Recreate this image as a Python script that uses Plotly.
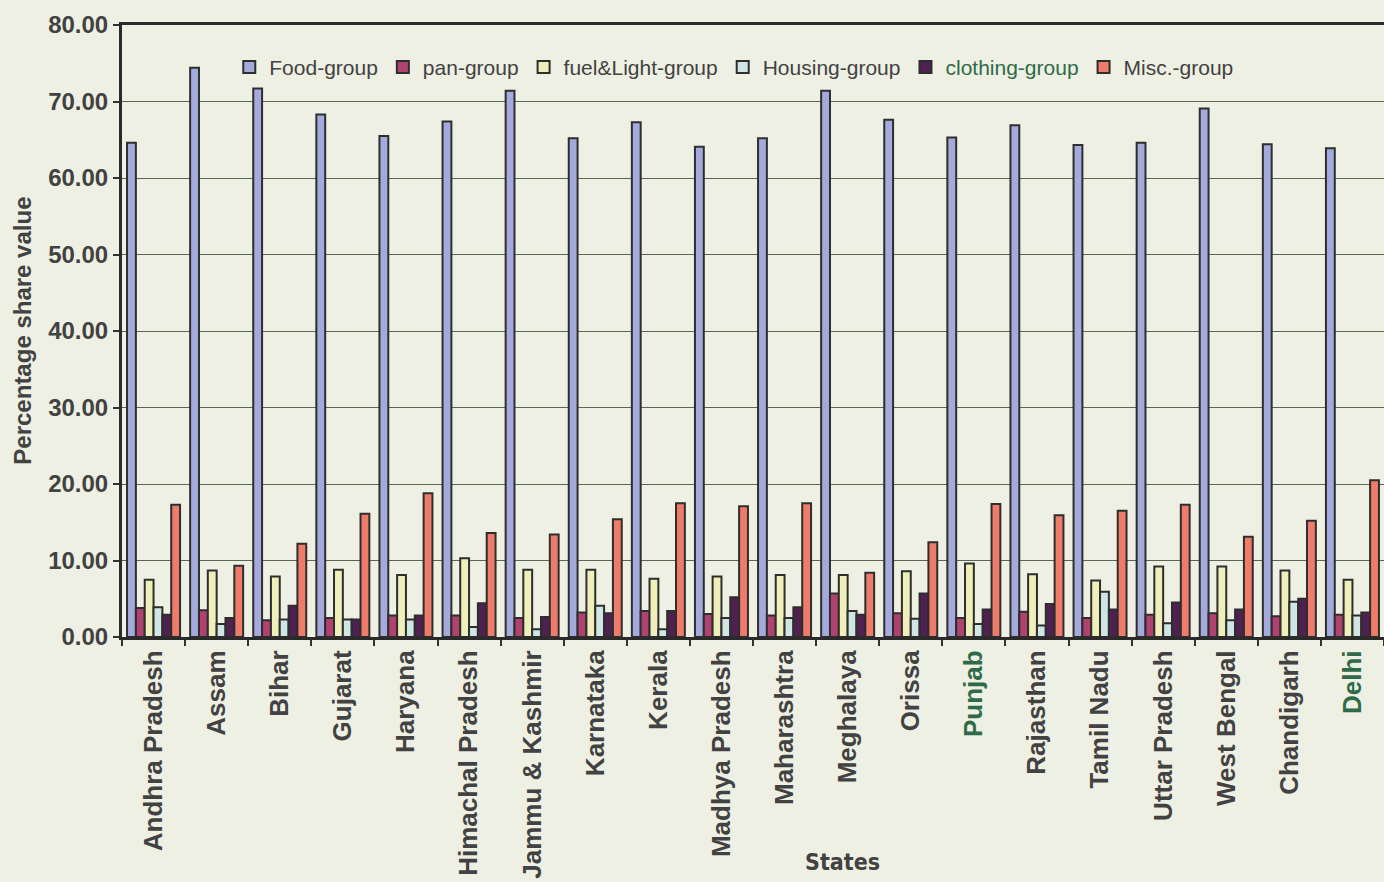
import plotly.graph_objects as go

# Category labels (states) and expenditure-group shares (%)
states = ["Andhra Pradesh", "Assam", "Bihar", "Gujarat", "Haryana",
          "Himachal Pradesh", "Jammu & Kashmir", "Karnataka", "Kerala",
          "Madhya Pradesh", "Maharashtra", "Meghalaya", "Orissa", "Punjab",
          "Rajasthan", "Tamil Nadu", "Uttar Pradesh", "West Bengal",
          "Chandigarh", "Delhi"]

food = [64.6, 74.4, 71.7, 68.3, 65.5, 67.4, 71.4, 65.2, 67.3, 64.1,
        65.2, 71.4, 67.6, 65.3, 66.9, 64.3, 64.6, 69.1, 64.4, 63.9]
pan = [3.8, 3.5, 2.2, 2.5, 2.8, 2.8, 2.5, 3.2, 3.4, 3.0,
       2.8, 5.7, 3.1, 2.5, 3.3, 2.5, 2.9, 3.1, 2.7, 2.9]
fuel = [7.5, 8.7, 7.9, 8.8, 8.1, 10.3, 8.8, 8.8, 7.6, 7.9,
        8.1, 8.1, 8.6, 9.6, 8.2, 7.4, 9.2, 9.2, 8.7, 7.5]
housing = [3.9, 1.7, 2.3, 2.3, 2.3, 1.3, 1.0, 4.1, 1.0, 2.5,
           2.5, 3.4, 2.4, 1.7, 1.5, 5.9, 1.8, 2.2, 4.6, 2.8]
clothing = [2.9, 2.5, 4.1, 2.3, 2.8, 4.4, 2.6, 3.1, 3.4, 5.2,
            3.9, 2.9, 5.7, 3.6, 4.3, 3.6, 4.5, 3.6, 5.0, 3.2]
misc = [17.3, 9.3, 12.2, 16.1, 18.8, 13.6, 13.4, 15.4, 17.5, 17.1,
        17.5, 8.4, 12.4, 17.4, 15.9, 16.5, 17.3, 13.1, 15.2, 20.5]

series_names = ["Food-group", "pan-group", "fuel&Light-group",
                "Housing-group", "clothing-group", "Misc.-group"]
series_values = [food, pan, fuel, housing, clothing, misc]
series_colors = ["#a4abdc", "#b0426f", "#eeefb9", "#cfe6e4", "#4e2150", "#ef7c6a"]

y_ticks = [0, 10, 20, 30, 40, 50, 60, 70, 80]

TEXT = "#424242"
GREEN_TEXT = "#2f6b48"
BG = "#eef0e3"
GRID = "#5b6650"
FONT = "Liberation Sans, Arial, sans-serif"

# a few labels print in a greenish ink
green_states = {"Punjab", "Delhi"}
tick_text = [f"<span style='color:{GREEN_TEXT}'>{s}</span>" if s in green_states else s
             for s in states]

fig = go.Figure()
for name, vals, col in zip(series_names, series_values, series_colors):
    label = name
    if name == "clothing-group":
        label = f"<span style='color:{GREEN_TEXT}'>{name}</span>"
    fig.add_trace(go.Bar(
        x=states, y=vals, name=label,
        marker=dict(color=col, line=dict(color="#2e2e2e", width=2)),
    ))

fig.update_layout(
    width=1384, height=882,
    paper_bgcolor=BG, plot_bgcolor=BG,
    margin=dict(l=122, r=0, t=25, b=245),
    barmode="group", bargap=0.16, bargroupgap=0,
    font=dict(family=FONT, color=TEXT),
    showlegend=True,
    legend=dict(
        orientation="h", x=0.085, y=0.931, xanchor="left", yanchor="middle",
        bgcolor="rgba(0,0,0,0)", font=dict(size=21, color=TEXT),
        itemwidth=30, tracegroupgap=0,
    ),
    xaxis=dict(
        type="category", tickmode="array", tickvals=states, ticktext=tick_text,
        tickangle=-90, tickson="boundaries", ticks="outside", ticklen=6,
        tickcolor="#333333", tickwidth=1.5,
        tickfont=dict(size=26, color=TEXT, family=FONT, weight="bold"),
        showline=True, linecolor="#2a2a2a", linewidth=3, mirror=True,
        showgrid=False, zeroline=False, range=[-0.5, 19.5],
    ),
    yaxis=dict(
        range=[0, 80], tickmode="array", tickvals=y_ticks, tickformat=".2f",
        ticks="outside", ticklen=6, tickcolor="#333333", tickwidth=1.5,
        tickfont=dict(size=24, color=TEXT, family=FONT, weight="bold"),
        showline=True, linecolor="#2a2a2a", linewidth=3,
        showgrid=True, gridcolor=GRID, gridwidth=1.2, zeroline=False,
    ),
    annotations=[
        dict(text="Percentage share value", xref="paper", yref="paper",
             x=-0.0795, y=0.5, textangle=-90, showarrow=False,
             xanchor="center", yanchor="middle",
             font=dict(size=24, color=TEXT, weight="bold")),
        dict(text="States", xref="paper", yref="paper",
             x=0.571, y=-0.368, showarrow=False,
             xanchor="center", yanchor="middle",
             font=dict(size=23, color=TEXT, weight="bold",
                       family="Liberation Sans Narrow, DejaVu Sans Condensed, Arial Narrow, sans-serif")),
    ],
)

fig.write_html("out.html")
